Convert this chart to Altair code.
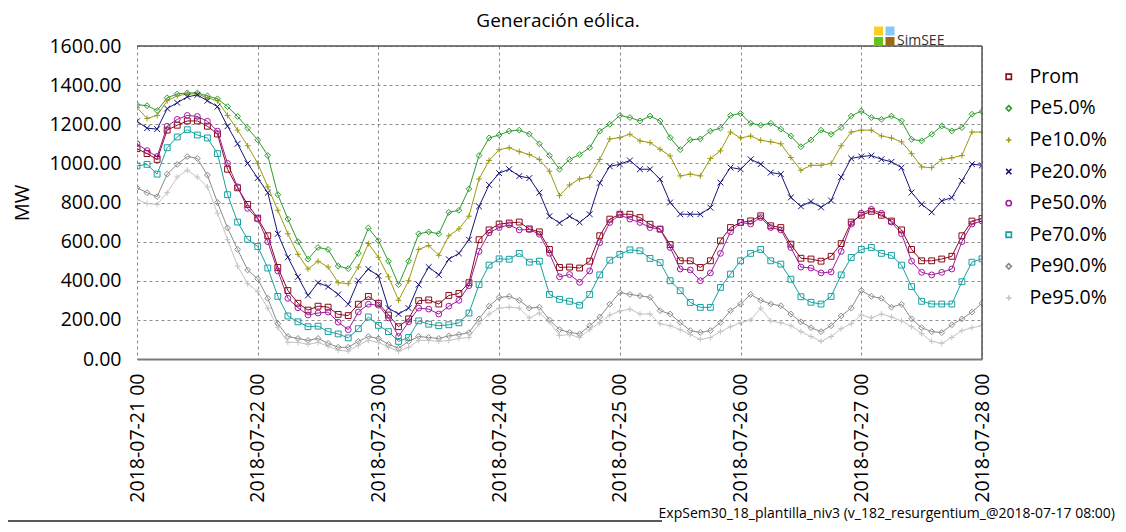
import altair as alt
import pandas as pd

# ---------------- data (2-hour steps) ----------------
START = "2018-07-21 00:00"
N_POINTS = 85  # 2018-07-21 00 .. 2018-07-28 00, every 2 h
DAYS = [21, 22, 23, 24, 25, 26, 27, 28]
Y_TICKS = [0, 200, 400, 600, 800, 1000, 1200, 1400, 1600]

SERIES = ["Prom", "Pe5.0%", "Pe10.0%", "Pe20.0%", "Pe50.0%", "Pe70.0%", "Pe90.0%", "Pe95.0%"]
COLORS = ["#8b0a1a", "#2f9a2f", "#9c9a10", "#14147a", "#a01aa0", "#17a0a0", "#8a8a8a", "#c4c4c4"]

PROM = [1075, 1050, 1020, 1170, 1195, 1217, 1217, 1190, 1150, 970, 875, 790, 720,
        630, 468, 350, 285, 250, 270, 265, 228, 222, 280, 320, 285,
        225, 165, 205, 298, 302, 281, 325, 335, 390, 610, 660, 690,
        695, 700, 665, 650, 560, 468, 470, 465, 500, 630, 715, 740,
        740, 723, 689, 664, 585, 502, 502, 468, 502, 604, 672, 698,
        706, 732, 681, 672, 587, 515, 511, 500, 525, 590, 700, 735,
        755, 735, 705, 660, 560, 502, 502, 511, 525, 630, 705, 718]

PE5 = [1300, 1295, 1270, 1335, 1355, 1360, 1360, 1345, 1330, 1290, 1240, 1180, 1120,
       1040, 840, 715, 600, 510, 570, 560, 475, 462, 540, 670, 605,
       500, 380, 500, 640, 650, 640, 750, 760, 870, 1040, 1130, 1145,
       1165, 1170, 1150, 1100, 1040, 970, 1020, 1045, 1080, 1165, 1200, 1245,
       1234, 1217, 1242, 1217, 1132, 1070, 1120, 1125, 1165, 1180, 1245, 1255,
       1205, 1195, 1205, 1175, 1140, 1085, 1120, 1170, 1149, 1183, 1242, 1268,
       1234, 1225, 1242, 1217, 1123, 1115, 1149, 1191, 1166, 1183, 1251, 1265]

PE10 = [1285, 1230, 1245, 1320, 1345, 1355, 1355, 1335, 1320, 1245, 1170, 1090, 1000,
        880, 760, 640, 535, 460, 500, 470, 390, 385, 470, 590, 520,
        420, 300, 400, 560, 580, 530, 630, 665, 730, 920, 1015, 1070,
        1080, 1060, 1045, 1020, 960, 835, 890, 920, 930, 1020, 1125, 1132,
        1149, 1115, 1106, 1072, 1038, 936, 945, 936, 1025, 1064, 1160, 1130,
        1140, 1118, 1110, 1100, 1030, 965, 990, 990, 1000, 1090, 1160, 1170,
        1170, 1140, 1130, 1110, 1050, 982, 978, 1020, 1028, 1040, 1160, 1160]

PE20 = [1215, 1180, 1175, 1280, 1310, 1340, 1350, 1320, 1290, 1190, 1100, 1000, 925,
        850, 640, 520, 420, 325, 390, 370, 330, 280, 400, 460, 425,
        260, 230, 260, 380, 470, 430, 510, 540, 610, 780, 890, 950,
        970, 935, 925, 850, 730, 695, 730, 698, 740, 900, 985, 995,
        1015, 970, 970, 919, 800, 740, 740, 740, 774, 902, 979, 970,
        1021, 996, 953, 945, 826, 780, 805, 775, 810, 930, 1025, 1035,
        1040, 1021, 1008, 978, 851, 791, 750, 808, 825, 911, 996, 990]

PE50 = [1100, 1065, 1035, 1190, 1225, 1245, 1240, 1215, 1165, 1000, 880, 770, 715,
        600, 450, 310, 262, 225, 235, 240, 188, 150, 240, 280, 275,
        210, 115, 190, 260, 255, 230, 270, 300, 375, 550, 645, 672,
        686, 660, 662, 638, 540, 420, 432, 392, 450, 595, 698, 737,
        715, 698, 672, 664, 570, 460, 455, 400, 440, 540, 650, 698,
        690, 723, 672, 660, 570, 470, 465, 440, 445, 550, 690, 745,
        765, 745, 700, 640, 500, 443, 430, 443, 460, 600, 690, 705]

PE70 = [987, 995, 945, 1080, 1135, 1172, 1145, 1130, 1050, 840, 700, 612, 575,
        465, 320, 220, 190, 165, 168, 140, 128, 108, 155, 215, 172,
        140, 90, 110, 195, 178, 170, 175, 185, 235, 380, 480, 512,
        510, 540, 495, 500, 330, 305, 295, 275, 330, 430, 505, 535,
        558, 553, 514, 493, 400, 349, 289, 264, 264, 366, 434, 502,
        540, 560, 502, 485, 408, 318, 290, 281, 320, 430, 519, 560,
        570, 540, 530, 480, 370, 295, 281, 281, 281, 395, 495, 512]

PE90 = [875, 850, 830, 945, 995, 1035, 1025, 940, 800, 670, 560, 455, 410,
        310, 180, 115, 105, 95, 105, 80, 60, 60, 90, 115, 105,
        75, 55, 90, 115, 110, 105, 118, 125, 135, 205, 270, 315,
        320, 300, 260, 265, 200, 150, 136, 128, 170, 215, 280, 340,
        330, 323, 315, 247, 230, 187, 145, 136, 145, 187, 247, 281,
        330, 300, 281, 272, 230, 190, 160, 140, 170, 220, 260, 350,
        320, 310, 265, 280, 205, 160, 140, 135, 175, 205, 240, 285]

PE95 = [815, 795, 790, 850, 930, 965, 930, 880, 745, 610, 475, 385, 345,
        260, 160, 85, 85, 75, 85, 65, 45, 40, 70, 95, 85,
        60, 40, 60, 95, 95, 90, 95, 105, 110, 180, 230, 260,
        265, 260, 210, 235, 190, 120, 125, 110, 150, 185, 225, 245,
        255, 230, 230, 180, 170, 150, 125, 100, 110, 140, 165, 185,
        200, 260, 195, 185, 170, 140, 115, 90, 115, 155, 180, 225,
        210, 230, 215, 195, 165, 130, 90, 80, 110, 145, 160, 170]

VALUES = [PROM, PE5, PE10, PE20, PE50, PE70, PE90, PE95]

TITLE = "Generación eólica."
Y_TITLE = "MW"
FOOTER = "ExpSem30_18_plantilla_niv3 (v_182_resurgentium_@2018-07-17 08:00)"
LOGO_TEXT = "SimSEE"

# ---------------- styling ----------------
FONT = "Open Sans"
PLUS = "M-1,0L1,0M0,-1L0,1"
XMARK = "M-1,-1L1,1M-1,1L1,-1"
SHAPES = ["square", "diamond", PLUS, XMARK, "circle", "square", "diamond", PLUS]

W, H = 845, 313

times = pd.date_range(START, periods=N_POINTS, freq="2h")
rows = []
for name, vals in zip(SERIES, VALUES):
    for t, v in zip(times, vals):
        rows.append({"t": t, "series": name, "v": v})
df = pd.DataFrame(rows)

x_enc = alt.X(
    "t:T",
    scale=alt.Scale(domain=[alt.DateTime(year=2018, month=7, date=DAYS[0]),
                            alt.DateTime(year=2018, month=7, date=DAYS[-1])], nice=False),
    axis=alt.Axis(
        values=[alt.DateTime(year=2018, month=7, date=d) for d in DAYS],
        format="%Y-%m-%d %H", labelAngle=270, labelFontSize=19.5, labelFont=FONT,
        labelColor="black", labelPadding=14, ticks=False, domain=True,
        domainColor="#7a7a7a", domainWidth=2, grid=True, gridColor="#8c8c8c",
        gridDash=[3, 3], gridWidth=1, title=None, labelOverlap=False, labelBound=False,
        labelFlush=False,
    ),
)
y_enc = alt.Y(
    "v:Q",
    scale=alt.Scale(domain=[0, 1600], nice=False),
    axis=alt.Axis(
        values=Y_TICKS, format=".2f", labelFontSize=19.5, labelFont=FONT,
        labelColor="black", labelPadding=16, ticks=False, domain=False,
        grid=True, gridColor="#8c8c8c", gridDash=[3, 3], gridWidth=1,
        title=Y_TITLE, titleFontSize=20, titleFont=FONT, titleFontWeight="normal",
        titleColor="black", titlePadding=16,
    ),
)
color_scale = alt.Scale(domain=SERIES, range=COLORS)
shape_scale = alt.Scale(domain=SERIES, range=SHAPES)

legend = alt.Legend(
    orient="none", legendX=862, legendY=21, title=None, labelFontSize=19.5,
    labelFont=FONT, labelColor="black", symbolSize=28, symbolStrokeWidth=1.6,
    rowPadding=10.6, labelOffset=11, padding=0, symbolLimit=0, symbolFillColor="transparent",
)

base = alt.Chart(df)
lines = base.mark_line(strokeWidth=1, clip=True).encode(
    x=x_enc, y=y_enc,
    color=alt.Color("series:N", scale=color_scale, legend=legend),
    detail="series:N",
)
points = base.mark_point(filled=False, size=34, strokeWidth=1, opacity=1, clip=True).encode(
    x=x_enc, y=y_enc,
    color=alt.Color("series:N", scale=color_scale, legend=legend),
    shape=alt.Shape("series:N", scale=shape_scale, legend=legend),
)

one = alt.Chart(pd.DataFrame({"a": [0]}))
top_border = one.mark_rule(color="#555555", strokeWidth=1.5).encode(
    x=alt.value(0), x2=alt.value(W), y=alt.value(0))
right_border = one.mark_rule(color="#555555", strokeWidth=1.5).encode(
    x=alt.value(W), y=alt.value(0), y2=alt.value(H))

logo_cells = [
    ("#ffcc22", 737, 746, -19.5, -10.5),
    ("#88c8f8", 748.5, 757.5, -19.5, -10.5),
    ("#66c418", 737, 746, -9, 0),
    ("#9a6a10", 748.5, 757.5, -9, 0),
]
logo = None
for col, x1, x2, y1, y2 in logo_cells:
    r = one.mark_rect(color=col).encode(
        x=alt.value(x1), x2=alt.value(x2), y=alt.value(y1), y2=alt.value(y2))
    logo = r if logo is None else logo + r
logo_text = one.mark_text(align="left", baseline="alphabetic", fontSize=14, font=FONT,
                          color="#333333").encode(
    x=alt.value(760), y=alt.value(-1), text=alt.value(LOGO_TEXT))
title_text = one.mark_text(align="center", baseline="middle", fontSize=19, font=FONT,
                           color="black").encode(
    x=alt.value(558 - 137), y=alt.value(21 - 46), text=alt.value(TITLE))
footer = one.mark_text(align="right", baseline="alphabetic", fontSize=14, font=FONT,
                       color="black").encode(
    x=alt.value(1115 - 137), y=alt.value(518 - 46), text=alt.value(FOOTER))
bottom_line = one.mark_rule(color="#222222", strokeWidth=1.5).encode(
    x=alt.value(-137), x2=alt.value(662 - 137), y=alt.value(521 - 46))

chart = alt.layer(
    lines, points, top_border, right_border, logo, logo_text, title_text, footer, bottom_line
).properties(
    width=W, height=H,
    autosize=alt.AutoSizeParams(type="none"),
    padding={"left": 129, "top": 38, "right": 136, "bottom": 165},
).configure_view(stroke=None).resolve_scale(color="shared", shape="shared")

chart.save("out.html", embed_options={"renderer": "svg", "actions": False})
